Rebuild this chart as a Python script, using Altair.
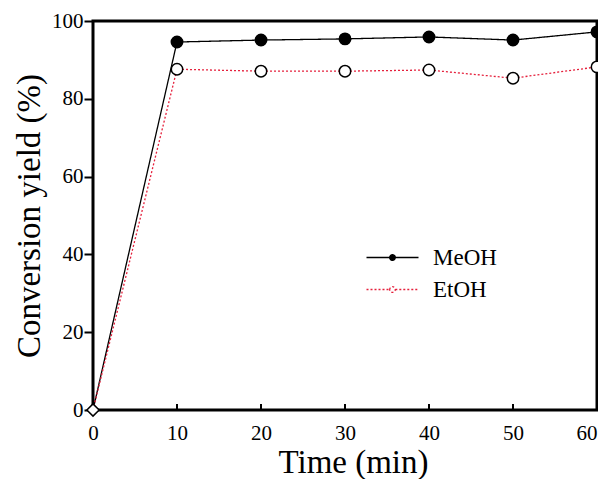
import altair as alt
import pandas as pd

times = [0, 10, 20, 30, 40, 50, 60]
meoh = [0, 94.6, 95.1, 95.4, 95.9, 95.1, 97.2]
etoh = [0, 87.6, 87.1, 87.1, 87.4, 85.3, 88.2]
series_names = ["MeOH", "EtOH"]
x_ticks = [0, 10, 20, 30, 40, 50, 60]
y_ticks = [0, 20, 40, 60, 80, 100]

rows = []
for name, vals in zip(series_names, [meoh, etoh]):
    for t, v in zip(times, vals):
        rows.append({"time": t, "yield": v, "series": name})
df = pd.DataFrame(rows)

W, H = 504, 389
FONT = "Liberation Serif"

xscale = alt.Scale(domain=[0, 60], nice=False, zero=False)
yscale = alt.Scale(domain=[0, 100], nice=False)

xenc = alt.X("time:Q", scale=xscale,
             axis=alt.Axis(values=x_ticks, title="Time (min)", domain=False, ticks=False,
                           labelFontSize=21, titleFontSize=33, labelPadding=12, titlePadding=3,
                           titleX=260,
                           labelAlign={"condition": {"test": "datum.value == 60", "value": "right"},
                                       "value": "center"},
                           grid=False, labelColor="black", titleColor="black",
                           titleFontWeight="normal", labelFont=FONT, titleFont=FONT))
yenc = alt.Y("yield:Q", scale=yscale,
             axis=alt.Axis(values=y_ticks, title="Conversion yield (%)", domain=False,
                           tickSize=9, tickWidth=2, tickColor="black",
                           labelFontSize=21, titleFontSize=33, labelPadding=1, titlePadding=5,
                           grid=False, labelColor="black", titleColor="black",
                           titleFontWeight="normal", labelFont=FONT, titleFont=FONT))

dom = series_names
legend_path = ("M-2.6,0H-0.28M0.28,0H2.6"
               "M-0.28,0A0.28,0.28 0 1,1 0.28,0A0.28,0.28 0 1,1 -0.28,0Z")
leg = alt.Legend(title=None, orient="none", legendX=254, legendY=225,
                 symbolType=legend_path, symbolSize=400, symbolStrokeWidth=1.3,
                 labelFontSize=23, labelFont=FONT, labelColor="black",
                 labelOffset=29, rowPadding=8, symbolOffset=34)

base = alt.Chart(df)

lines = base.mark_line(strokeWidth=1.3).encode(
    x=xenc, y=yenc,
    stroke=alt.Stroke("series:N", scale=alt.Scale(domain=dom, range=["black", "#e5203c"]), legend=leg),
    strokeDash=alt.StrokeDash("series:N", scale=alt.Scale(domain=dom, range=[[1, 0], [2, 2]]), legend=leg),
)

points = base.transform_filter("datum.time > 0").mark_point(
    filled=True, size=130, strokeWidth=1.5, opacity=1, stroke="black"
).encode(
    x="time:Q", y="yield:Q",
    fill=alt.Fill("series:N", scale=alt.Scale(domain=dom, range=["black", "white"]), legend=leg),
)

origin = base.transform_filter("datum.time == 0 && datum.series == 'EtOH'").mark_point(
    shape="diamond", size=150, filled=True, fill="white", stroke="black", strokeWidth=1.5, opacity=1
).encode(x="time:Q", y="yield:Q")

tickdf = pd.DataFrame({"t": x_ticks})
xt = alt.Chart(tickdf).mark_rule(color="black", strokeWidth=2).encode(
    x=alt.X("t:Q", scale=xscale), y=alt.value(H - 6), y2=alt.value(H)
)

chart = alt.layer(xt, lines, points, origin).properties(
    width=W, height=H,
    autosize=alt.AutoSizeParams(type="none"),
    padding={"left": 85, "top": 13, "right": 1, "bottom": 69},
).configure(background="white", view=alt.ViewConfig(stroke="black", strokeWidth=3))

chart.save("out.html", embed_options={"renderer": "svg", "actions": False})
